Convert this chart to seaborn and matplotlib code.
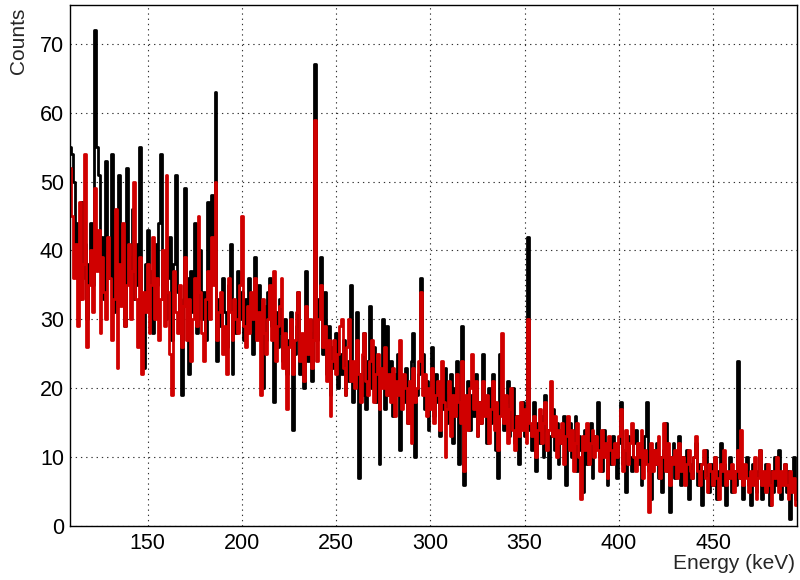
import numpy as np
import pandas as pd
import matplotlib
matplotlib.use("Agg")
import matplotlib.pyplot as plt
from matplotlib.ticker import MultipleLocator
import seaborn as sns

# Spectrum binning: 1 keV bins, first bin centred on 109 keV
first_center = 109.0
bin_width = 1.0

# Counts per bin, black spectrum (109 ... 494 keV)
counts_black = [
    55, 54, 50, 38, 44, 33, 47, 36, 41, 30,
    38, 44, 35, 72, 55, 51, 37, 42, 33, 53,
    40, 36, 54, 31, 45, 38, 51, 34, 43, 29,
    52, 39, 36, 46, 33, 41, 35, 55, 30, 23,
    38, 43, 32, 37, 28, 41, 35, 44, 54, 33,
    39, 30, 36, 42, 27, 38, 51, 34, 29, 19,
    33, 49, 36, 22, 37, 31, 44, 28, 35, 40,
    30, 34, 27, 47, 36, 48, 40, 63, 24, 33,
    29, 36, 31, 26, 35, 41, 22, 32, 28, 37,
    30, 34, 27, 33, 29, 36, 31, 25, 39, 28,
    35, 30, 20, 32, 27, 34, 36, 29, 18, 31,
    26, 33, 28, 24, 30, 22, 27, 31, 14, 25,
    29, 34, 22, 26, 20, 37, 24, 28, 21, 30,
    67, 27, 33, 39, 25, 34, 22, 29, 19, 26,
    23, 28, 20, 25, 22, 27, 19, 24, 21, 35,
    18, 23, 31, 7, 22, 19, 28, 17, 24, 32,
    20, 26, 18, 23, 9, 21, 30, 17, 29, 19,
    24, 16, 22, 19, 25, 11, 21, 18, 23, 15,
    20, 24, 28, 10, 19, 22, 36, 25, 17, 21,
    14, 20, 26, 16, 22, 18, 13, 21, 17, 23,
    15, 19, 22, 12, 20, 24, 9, 18, 29, 6,
    17, 21, 14, 19, 16, 22, 13, 18, 15, 25,
    17, 12, 20, 15, 22, 16, 11, 7, 25, 19,
    14, 18, 21, 13, 17, 20, 12, 16, 9, 15,
    18, 13, 17, 42, 14, 11, 18, 8, 15, 12,
    16, 10, 19, 14, 7, 13, 17, 11, 15, 9,
    14, 12, 16, 6, 13, 15, 10, 12, 16, 8,
    13, 11, 5, 14, 9, 12, 15, 7, 11, 13,
    18, 10, 8, 14, 11, 6, 12, 9, 13, 10,
    7, 12, 18, 9, 11, 5, 13, 10, 8, 12,
    14, 9, 11, 6, 10, 13, 18, 8, 4, 11,
    9, 12, 7, 10, 5, 11, 15, 8, 2, 10,
    12, 7, 9, 13, 6, 10, 8, 11, 4, 9,
    7, 10, 12, 6, 9, 3, 8, 11, 7, 5,
    9, 6, 10, 4, 8, 12, 6, 9, 3, 7,
    10, 5, 8, 6, 24, 9, 7, 4, 8, 10,
    6, 3, 9, 7, 5, 8, 11, 4, 7, 9,
    6, 3, 8, 5, 10, 6, 11, 4, 7, 9,
    5, 8, 1, 6, 10, 4,
]

# Counts per bin, red spectrum (109 ... 494 keV)
counts_red = [
    52, 45, 36, 41, 29, 47, 33, 38, 54, 26,
    35, 40, 31, 49, 37, 43, 28, 39, 34, 30,
    42, 36, 27, 33, 46, 23, 38, 32, 44, 29,
    35, 41, 30, 37, 50, 33, 26, 39, 22, 34,
    31, 38, 28, 35, 42, 30, 36, 27, 33, 40,
    29, 51, 34, 25, 19, 37, 31, 28, 35, 26,
    32, 39, 27, 33, 24, 30, 36, 29, 45, 34,
    28, 24, 33, 37, 30, 42, 35, 50, 27, 31,
    34, 25, 29, 22, 36, 31, 27, 33, 30, 28,
    35, 45, 29, 26, 32, 28, 34, 30, 36, 27,
    31, 19, 33, 28, 25, 30, 35, 27, 37, 24,
    29, 32, 36, 23, 28, 17, 26, 30, 22, 27,
    31, 34, 24, 28, 21, 32, 25, 30, 23, 27,
    59, 24, 30, 35, 26, 29, 21, 27, 16, 24,
    27, 22, 25, 29, 30, 23, 19, 26, 30, 21,
    24, 20, 27, 22, 18, 25, 28, 21, 19, 24,
    27, 18, 22, 25, 17, 23, 20, 26, 19, 22,
    18, 23, 16, 21, 19, 27, 17, 22, 20, 15,
    21, 12, 23, 18, 20, 24, 34, 19, 22, 16,
    20, 17, 23, 15, 19, 21, 14, 24, 18, 10,
    17, 21, 13, 19, 16, 22, 18, 15, 24, 8,
    19, 14, 20, 25, 17, 21, 13, 18, 15, 21,
    16, 19, 12, 17, 21, 14, 18, 11, 16, 28,
    15, 19, 12, 17, 20, 14, 11, 16, 13, 18,
    14, 17, 12, 30, 15, 13, 16, 10, 14, 17,
    12, 15, 18, 11, 14, 21, 13, 16, 10, 14,
    12, 15, 9, 13, 16, 11, 14, 8, 12, 15,
    10, 4, 13, 11, 15, 9, 12, 14, 10, 13,
    11, 8, 14, 10, 12, 7, 13, 11, 9, 12,
    10, 13, 17, 8, 11, 14, 9, 12, 15, 10,
    8, 12, 10, 14, 7, 11, 9, 2, 12, 8,
    11, 9, 13, 7, 10, 15, 8, 12, 6, 10,
    9, 11, 7, 12, 8, 10, 6, 9, 11, 8,
    7, 10, 13, 8, 6, 9, 11, 7, 5, 9,
    8, 6, 10, 7, 4, 9, 8, 11, 6, 8,
    7, 9, 5, 8, 11, 7, 14, 6, 9, 7,
    5, 8, 6, 10, 4, 7, 11, 6, 8, 5,
    9, 6, 3, 8, 7, 10, 5, 8, 6, 9,
    6, 4, 8, 5, 7, 3,
]

x_title = "Energy (keV)"
y_title = "Counts"
x_range = (108.6, 494.4)
y_range = (0, 75.6)

n_bins = len(counts_black)
centers = first_center + bin_width * np.arange(n_bins)
bin_lo = centers[0] - bin_width / 2
bin_hi = centers[-1] + bin_width / 2

df = pd.DataFrame({
    "energy": np.concatenate([centers, centers]),
    "counts": np.concatenate([counts_black, counts_red]).astype(float),
    "spectrum": ["black"] * n_bins + ["red"] * n_bins,
})

sns.set_theme(style="white")
plt.rcParams["font.family"] = ["Liberation Sans", "DejaVu Sans"]

fig, ax = plt.subplots(figsize=(8.0, 5.8), dpi=100)
fig.subplots_adjust(left=0.087, right=0.996, top=0.991, bottom=0.093)

for name, col in [("black", "#000000"), ("red", "#d00000")]:
    sub = df[df["spectrum"] == name]
    sns.histplot(data=sub, x="energy", weights="counts",
                 binwidth=bin_width, binrange=(bin_lo, bin_hi),
                 element="step", fill=False, color=col, linewidth=2.0,
                 ax=ax)

ax.set_xlim(*x_range)
ax.set_ylim(*y_range)

ax.xaxis.set_major_locator(MultipleLocator(50))
ax.xaxis.set_minor_locator(MultipleLocator(10))
ax.yaxis.set_major_locator(MultipleLocator(10))
ax.yaxis.set_minor_locator(MultipleLocator(2))

ax.tick_params(axis="both", which="both", direction="in", colors="black",
               top=False, right=False, labelsize=15.5, width=0.9)
ax.tick_params(axis="x", which="major", length=12, pad=5)
ax.tick_params(axis="x", which="minor", length=6)
ax.tick_params(axis="y", which="major", length=15, pad=4)
ax.tick_params(axis="y", which="minor", length=8)

ax.grid(True, which="major", color="#333333", linewidth=0.8,
        linestyle=(0, (1.2, 3.5)))
ax.set_axisbelow(True)

for s in ax.spines.values():
    s.set_visible(True)
    s.set_color("black")
    s.set_linewidth(1.0)

ax.set_xlabel(x_title, loc="right", fontsize=15)
ax.xaxis.set_label_coords(0.998, -0.054)
ax.set_ylabel(y_title, loc="top", fontsize=15)
ax.yaxis.set_label_coords(-0.057, 0.995)

fig.savefig("out.png", dpi=100, facecolor="white")
